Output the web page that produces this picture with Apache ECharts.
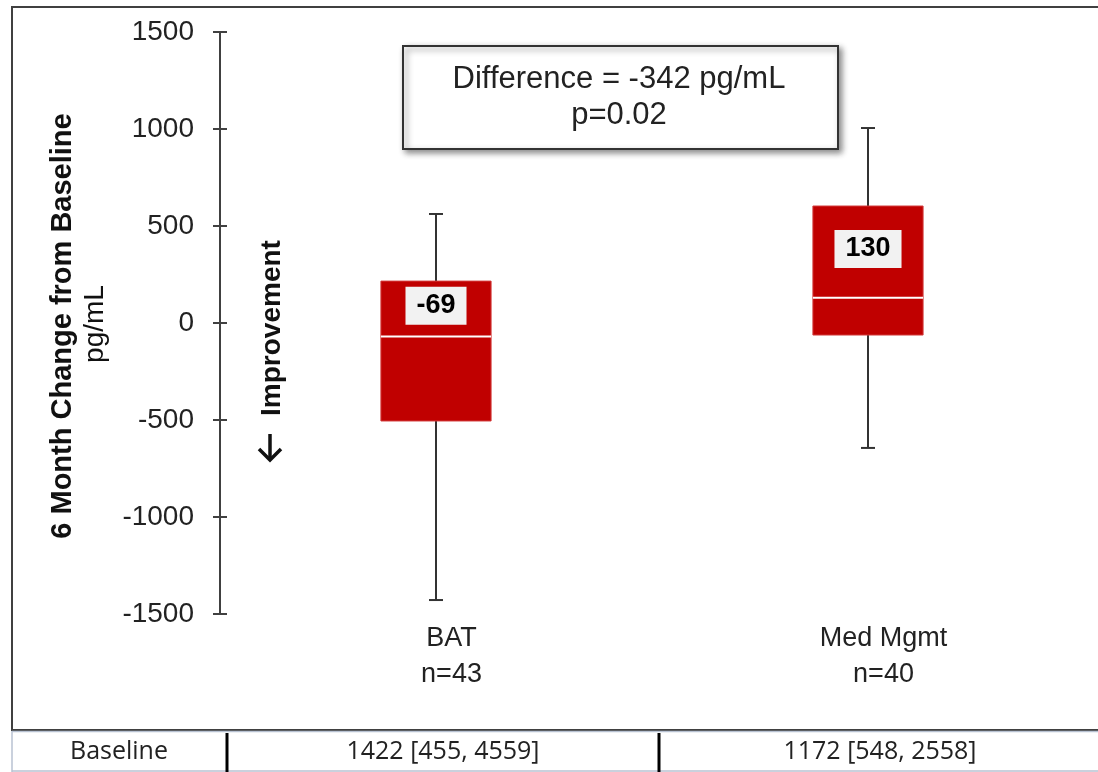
<!DOCTYPE html>
<html>
<head>
<meta charset="utf-8">
<script src="https://cdn.jsdelivr.net/npm/echarts@6/dist/echarts.min.js"></script>
<style>html,body{margin:0;padding:0;background:#fff}#c{width:1098px;height:772px}</style>
</head>
<body>
<div id="c"></div>
<script>
// ---- data ----
const categories = ['BAT', 'Med Mgmt'];
const nLabels = ['n=43', 'n=40'];
// [min, Q1, median, Q3, max]
const batValues = [-1428, -505, -69, 216, 562];
const medMgmtValues = [-644, -62, 130, 603, 1005];
const yTicks = { min: -1500, max: 1500, interval: 500 };
const baselineLabel = 'Baseline';
const baselineValues = ['1422 [455, 4559]', '1172 [548, 2558]'];
const annotationLines = ['Difference = -342 pg/mL', 'p=0.02'];
const yTitle = '6 Month Change from Baseline';
const yUnit = 'pg/mL';
const improvementText = 'Improvement';

const chart = echarts.init(document.getElementById('c'), null, { renderer: 'canvas' });

const boxData = [batValues, medMgmtValues].map((v, i) => [i].concat(v));

function renderBox(params, api) {
  const x = api.value(0);
  const cx = api.coord([x, 0])[0];
  const yMin = api.coord([x, api.value(1)])[1];
  const yQ1 = api.coord([x, api.value(2)])[1];
  const yMed = api.coord([x, api.value(3)])[1];
  const yQ3 = api.coord([x, api.value(4)])[1];
  const yMax = api.coord([x, api.value(5)])[1];
  const band = api.size([1, 0])[0];
  const bw = band * 0.255;
  const cap = 14;
  const wStyle = { stroke: '#333', lineWidth: 2 };
  const med = api.value(3);
  return {
    type: 'group',
    children: [
      { type: 'line', shape: { x1: cx, y1: yMax, x2: cx, y2: yQ3 }, style: wStyle },
      { type: 'line', shape: { x1: cx - cap / 2, y1: yMax, x2: cx + cap / 2, y2: yMax }, style: wStyle },
      { type: 'line', shape: { x1: cx, y1: yQ1, x2: cx, y2: yMin }, style: wStyle },
      { type: 'line', shape: { x1: cx - cap / 2, y1: yMin, x2: cx + cap / 2, y2: yMin }, style: wStyle },
      { type: 'rect', shape: { x: cx - bw / 2, y: yQ3, width: bw, height: yQ1 - yQ3 },
        style: { fill: '#C00000', stroke: '#d23a3a', lineWidth: 1 } },
      { type: 'line', shape: { x1: cx - bw / 2, y1: yMed, x2: cx + bw / 2, y2: yMed },
        style: { stroke: '#ffffff', lineWidth: 2 } },
      { type: 'text', x: cx, y: (yQ3 + yMed) / 2 - 3,
        style: { text: String(med), fill: '#000', font: 'bold 27px "Liberation Sans", Arial, sans-serif',
          align: 'center', verticalAlign: 'middle', backgroundColor: '#f2f2f2', padding: [6, 11, 5, 11] } }
    ]
  };
}

const tickFont = { fontFamily: '"Liberation Sans", Arial, sans-serif', fontSize: 28, color: '#222' };

const option = {
  animation: false,
  backgroundColor: '#ffffff',
  grid: { left: 220, right: 14, top: 32, bottom: 158, containLabel: false },
  xAxis: {
    type: 'category',
    data: categories,
    axisLine: { show: false },
    axisTick: { show: false },
    splitLine: { show: false },
    axisLabel: {
      margin: 7,
      fontFamily: '"Liberation Sans", Arial, sans-serif',
      fontSize: 27, lineHeight: 36, color: '#222',
      padding: [0, 0, 0, 31],
      formatter: (v, i) => v + '\n' + nLabels[i]
    }
  },
  yAxis: [{
    type: 'value',
    min: yTicks.min, max: yTicks.max, interval: yTicks.interval,
    axisLine: { show: true, lineStyle: { color: '#404040', width: 2 } },
    axisTick: { show: true, length: 7, lineStyle: { color: '#404040', width: 2 } },
    splitLine: { show: false },
    axisLabel: Object.assign({ margin: 26, formatter: (v) => String(v) }, tickFont)
  }, {
    type: 'value', position: 'left',
    min: yTicks.min, max: yTicks.max, interval: yTicks.interval,
    axisLine: { show: false },
    axisTick: { show: true, inside: true, length: 7, lineStyle: { color: '#404040', width: 2 } },
    axisLabel: { show: false },
    splitLine: { show: false }
  }],
  series: [{
    type: 'custom',
    renderItem: renderBox,
    data: boxData,
    encode: { x: 0, y: [1, 2, 3, 4, 5] },
    z: 5
  }],
  graphic: [
    // outer frame
    { type: 'rect', shape: { x: 12, y: 7, width: 1100, height: 723 },
      style: { fill: 'none', stroke: '#404040', lineWidth: 2 }, silent: true, z: 0 },
    // y title
    { type: 'text', x: 63, y: 326, rotation: Math.PI / 2,
      style: { text: yTitle, font: 'bold 29px "Liberation Sans", Arial, sans-serif', fill: '#111',
        align: 'center', verticalAlign: 'middle' } },
    { type: 'text', x: 95, y: 324, rotation: Math.PI / 2,
      style: { text: yUnit, font: '28px "Liberation Sans", Arial, sans-serif', fill: '#111',
        align: 'center', verticalAlign: 'middle' } },
    // improvement + arrow
    { type: 'text', x: 272, y: 328, rotation: Math.PI / 2,
      style: { text: improvementText, font: 'bold 28px "Liberation Sans", Arial, sans-serif', fill: '#111',
        align: 'center', verticalAlign: 'middle' } },
    { type: 'polyline', shape: { points: [[270, 434], [270, 460]] }, style: { stroke: '#111', lineWidth: 3.5 } },
    { type: 'polyline', shape: { points: [[259, 449], [270, 460], [281, 449]] }, style: { stroke: '#111', lineWidth: 3.5, fill: 'none' } },
    // annotation box
    { type: 'rect', shape: { x: 403, y: 46, width: 435, height: 103 },
      style: { fill: '#fff', stroke: '#333', lineWidth: 2, shadowBlur: 6, shadowOffsetX: 3, shadowOffsetY: 3, shadowColor: 'rgba(0,0,0,0.45)' } },
    { type: 'text', x: 619, y: 79,
      style: { text: annotationLines[0], font: '31px "Liberation Sans", Arial, sans-serif', fill: '#222', align: 'center', verticalAlign: 'middle' } },
    { type: 'text', x: 619, y: 115,
      style: { text: annotationLines[1], font: '31px "Liberation Sans", Arial, sans-serif', fill: '#222', align: 'center', verticalAlign: 'middle' } },
    // table
    { type: 'line', shape: { x1: 12, y1: 731.5, x2: 1098, y2: 731.5 }, style: { stroke: '#b8c2d2', lineWidth: 1.5 } },
    { type: 'line', shape: { x1: 12, y1: 771, x2: 1098, y2: 771 }, style: { stroke: '#b8c2d2', lineWidth: 1.5 } },
    { type: 'line', shape: { x1: 12, y1: 731, x2: 12, y2: 772 }, style: { stroke: '#b8c2d2', lineWidth: 1.5 } },
    { type: 'line', shape: { x1: 227, y1: 733, x2: 227, y2: 772 }, style: { stroke: '#000', lineWidth: 3 } },
    { type: 'line', shape: { x1: 659, y1: 733, x2: 659, y2: 772 }, style: { stroke: '#000', lineWidth: 3 } },
    { type: 'text', x: 119, y: 752,
      style: { text: baselineLabel, font: '25px "Open Sans", Lato, sans-serif', fill: '#222', align: 'center', verticalAlign: 'middle' } },
    { type: 'text', x: 443, y: 752,
      style: { text: baselineValues[0], font: '25px "Open Sans", Lato, sans-serif', fill: '#222', align: 'center', verticalAlign: 'middle' } },
    { type: 'text', x: 880, y: 752,
      style: { text: baselineValues[1], font: '25px "Open Sans", Lato, sans-serif', fill: '#222', align: 'center', verticalAlign: 'middle' } }
  ]
};
chart.setOption(option);
</script>
</body>
</html>
